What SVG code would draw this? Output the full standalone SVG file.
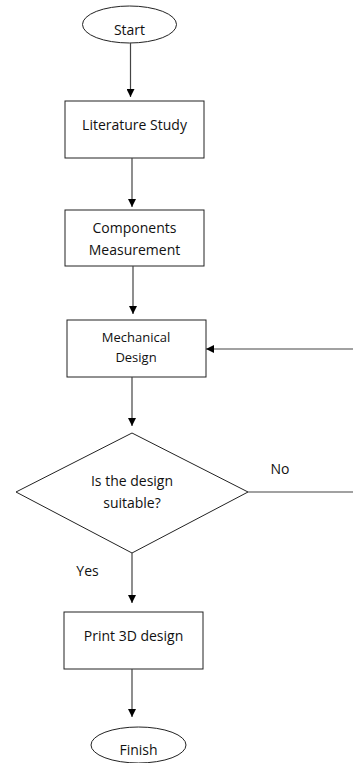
<svg xmlns="http://www.w3.org/2000/svg" width="353" height="763" viewBox="0 0 353 763">
<style>
.s{fill:#fff;stroke:#222;stroke-width:1}
.c{fill:none;stroke:#444;stroke-width:1.2}
.t{font-family:"Open Sans","Liberation Sans",sans-serif;font-size:14px;fill:#111;text-anchor:middle}
.sm{font-size:13px}
</style>
<defs>
<marker id="a" markerWidth="8" markerHeight="8" refX="8" refY="4" orient="auto" markerUnits="userSpaceOnUse">
<path d="M0,0 L8,4 L0,8 Z" fill="#000"/>
</marker>
</defs>
<g id="start"><ellipse class="s" cx="129.5" cy="24.5" rx="47" ry="18.5"/><text class="t" x="129.5" y="35">Start</text></g>
<g id="lit"><rect class="s" x="65" y="101" width="139" height="57"/><text class="t" x="134.5" y="130">Literature Study</text></g>
<g id="comp"><rect class="s" x="65" y="210" width="139" height="56"/><text class="t" x="134.5" y="233">Components</text><text class="t" x="134.5" y="255">Measurement</text></g>
<g id="mech"><rect class="s" x="67" y="320" width="139" height="57"/><text class="t sm" x="136" y="342">Mechanical</text><text class="t sm" x="136" y="362">Design</text></g>
<g id="dec"><polygon class="s" points="132,433 248,492 132,553 16,492"/><text class="t" x="132" y="486">Is the design</text><text class="t" x="132" y="508">suitable?</text></g>
<g id="print"><rect class="s" x="64" y="612" width="139" height="57"/><text class="t" x="133.5" y="641">Print 3D design</text></g>
<g id="finish"><ellipse class="s" cx="138.5" cy="745" rx="47.5" ry="18"/><text class="t" x="138.5" y="755">Finish</text></g>
<g id="connectors">
<line class="c" x1="130.5" y1="43" x2="130.5" y2="97" marker-end="url(#a)"/>
<line class="c" x1="132" y1="158" x2="132" y2="207" marker-end="url(#a)"/>
<line class="c" x1="133" y1="266" x2="133" y2="314" marker-end="url(#a)"/>
<line class="c" x1="353" y1="349" x2="206" y2="349" marker-end="url(#a)"/>
<line class="c" x1="132" y1="377" x2="132" y2="426" marker-end="url(#a)"/>
<line class="c" x1="248" y1="492" x2="353" y2="492"/>
<line class="c" x1="132" y1="553" x2="132" y2="603" marker-end="url(#a)"/>
<line class="c" x1="132" y1="669" x2="132" y2="717" marker-end="url(#a)"/>
<text class="t" x="280" y="474">No</text>
<text class="t" x="87.5" y="576">Yes</text>
</g>
</svg>
